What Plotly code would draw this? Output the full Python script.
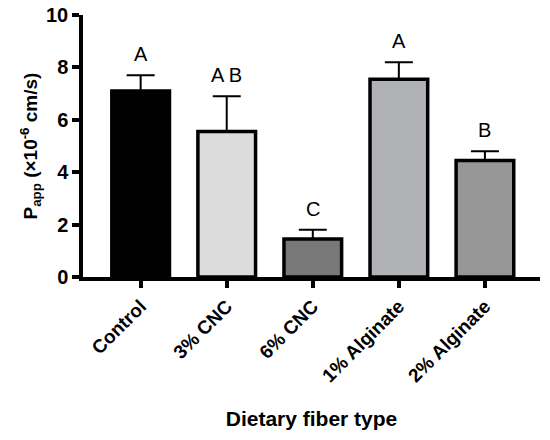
import plotly.graph_objects as go

# data
groups = ["Control", "3% CNC", "6% CNC", "1% Alginate", "2% Alginate"]
papp_mean = [7.1, 5.55, 1.45, 7.55, 4.45]
papp_sd = [0.6, 1.35, 0.35, 0.65, 0.35]
letters = ["A", "A B", "C", "A", "B"]
bar_colors = ["#000000", "#dcdcdc", "#787878", "#b1b2b5", "#969696"]

fig = go.Figure()
fig.add_trace(go.Bar(
    x=groups, y=papp_mean, width=0.67,
    marker=dict(color=bar_colors, line=dict(color="black", width=3.5)),
    error_y=dict(type="data", symmetric=False, array=papp_sd,
                 arrayminus=[0] * len(papp_sd),
                 color="black", thickness=2, width=14),
    showlegend=False,
))

# significance letters above the error bars
for g, m, s, t in zip(groups, papp_mean, papp_sd, letters):
    fig.add_annotation(x=g, y=m + s + 0.8, text=t, showarrow=False,
                       yanchor="middle",
                       font=dict(size=20, color="black",
                                 family="Arial, Liberation Sans"))

# page body has an 8px margin, so margins are trimmed to match
fig.update_layout(
    width=550, height=440,
    margin=dict(l=75, r=18, t=7, b=171),
    plot_bgcolor="white", paper_bgcolor="white",
    font=dict(family="Arial, Liberation Sans", color="black"),
)
fig.update_xaxes(
    range=[-0.67, 4.64], automargin=False,
    showline=True, linecolor="black", linewidth=3.5,
    ticks="outside", ticklen=7, tickwidth=3.5, tickcolor="black",
    tickangle=-45, tickfont=dict(size=19),
    tickprefix="<b>", ticksuffix="</b>",
    title=dict(text="<b>Dietary fiber type</b>", font=dict(size=21), standoff=27),
    showgrid=False, zeroline=False,
)
fig.update_yaxes(
    range=[0, 10], dtick=2, automargin=False, ticklabeloverflow="allow",
    showline=True, linecolor="black", linewidth=3.5,
    ticks="outside", ticklen=7, tickwidth=3.5, tickcolor="black",
    tickfont=dict(size=20),
    tickprefix="<b>", ticksuffix="</b>",
    title=dict(text="<b>P<sub>app</sub> (×10<sup>-6</sup> cm/s)</b>",
               font=dict(size=19), standoff=4),
    showgrid=False, zeroline=False,
)

fig.write_html("out.html")
